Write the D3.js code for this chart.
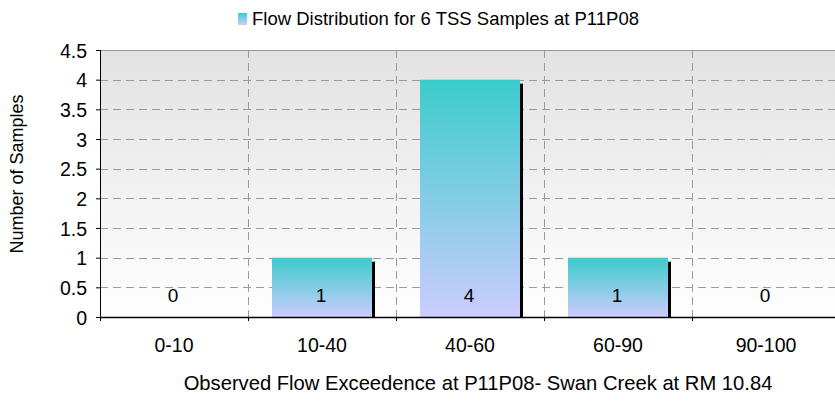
<!DOCTYPE html>
<html>
<head>
<meta charset="utf-8">
<script src="https://cdn.jsdelivr.net/npm/d3@7"></script>
<style>
  html, body { margin: 0; padding: 0; background: #fff; }
  svg { display: block; font-family: "Liberation Sans", Arial, sans-serif; }
</style>
</head>
<body>
<svg id="chart" width="835" height="402"></svg>
<script>
// Flow exceedence bins and the number of TSS samples in each
const categories = ["0-10", "10-40", "40-60", "60-90", "90-100"];
const sampleCounts = [0, 1, 4, 1, 0];
const yTicks = [0, 0.5, 1, 1.5, 2, 2.5, 3, 3.5, 4, 4.5];
const yTickLabels = ["0", "0.5", "1", "1.5", "2", "2.5", "3", "3.5", "4", "4.5"];

const titleText = "Flow Distribution for 6 TSS Samples at P11P08";
const xTitle = "Observed Flow Exceedence at P11P08- Swan Creek at RM 10.84";
const yTitle = "Number of Samples";

const FONT = "'Liberation Sans', Arial, sans-serif";
const svg = d3.select("#chart");
const margin = { left: 100, top: 50, right: -5, bottom: 85 };
const W = 835, H = 402;
const plotW = W - margin.left - margin.right;
const plotH = H - margin.top - margin.bottom;

const defs = svg.append("defs");
const bg = defs.append("linearGradient").attr("id", "bgGrad")
  .attr("x1", 0).attr("y1", 0).attr("x2", 0).attr("y2", 1);
bg.append("stop").attr("offset", "0%").attr("stop-color", "#e2e2e2");
bg.append("stop").attr("offset", "100%").attr("stop-color", "#ffffff");

const barGrad = defs.append("linearGradient").attr("id", "barGrad")
  .attr("x1", 0).attr("y1", 0).attr("x2", 0).attr("y2", 1);
barGrad.append("stop").attr("offset", "0%").attr("stop-color", "#3ccccc");
barGrad.append("stop").attr("offset", "100%").attr("stop-color", "#ccccff");

const x = d3.scaleBand().domain(categories).range([0, plotW]).paddingInner(0).paddingOuter(0);
const y = d3.scaleLinear().domain([0, 4.5]).range([plotH, 0]);

const g = svg.append("g").attr("transform", `translate(${margin.left},${margin.top})`);

// plot background
g.append("rect").attr("x", 0).attr("y", 0).attr("width", plotW).attr("height", plotH)
  .attr("fill", "url(#bgGrad)");
g.append("line").attr("x1", 0).attr("x2", plotW).attr("y1", 0.5).attr("y2", 0.5)
  .attr("stroke", "#999").attr("stroke-width", 1);

// horizontal dashed gridlines
g.selectAll(".hgrid").data(yTicks.filter(t => t > 0 && t < 4.5)).enter().append("line")
  .attr("x1", 0).attr("x2", plotW)
  .attr("y1", d => Math.round(y(d)) + 0.5).attr("y2", d => Math.round(y(d)) + 0.5)
  .attr("stroke", "#9a9a9a").attr("stroke-width", 1).attr("stroke-dasharray", "8,5");

// vertical dashed gridlines at category boundaries
g.selectAll(".vgrid").data(categories.slice(1)).enter().append("line")
  .attr("x1", d => Math.round(x(d)) + 0.5).attr("x2", d => Math.round(x(d)) + 0.5)
  .attr("y1", 0).attr("y2", plotH)
  .attr("stroke", "#9a9a9a").attr("stroke-width", 1).attr("stroke-dasharray", "8,5");

// bars with drop shadow
const pad = 24;
const bw = x.bandwidth() - 2 * pad;
const bars = g.selectAll(".bar").data(categories.map((c, i) => ({ c, v: sampleCounts[i] })))
  .enter().append("g");
bars.filter(d => d.v > 0).append("rect")
  .attr("x", d => x(d.c) + pad + 3).attr("y", d => y(d.v) + 4)
  .attr("width", bw).attr("height", d => plotH - y(d.v) - 4)
  .attr("fill", "#000");
bars.filter(d => d.v > 0).append("rect")
  .attr("x", d => x(d.c) + pad).attr("y", d => y(d.v))
  .attr("width", bw).attr("height", d => plotH - y(d.v))
  .attr("fill", "url(#barGrad)");

// value labels
bars.append("text")
  .attr("x", d => x(d.c) + x.bandwidth() / 2 - 1)
  .attr("y", y(0.33))
  .attr("text-anchor", "middle").attr("dominant-baseline", "middle")
  .attr("font-size", 19).attr("fill", "#000")
  .text(d => d.v);

// axes
const yAxis = d3.axisLeft(y).tickValues(yTicks).tickFormat((d, i) => yTickLabels[i])
  .tickSize(4).tickPadding(9);
const ya = g.append("g").call(yAxis);
ya.select(".domain").remove();
ya.selectAll("text").attr("font-size", 19.5).attr("fill", "#000").attr("dy", "0.36em")
  .style("font-family", FONT);
ya.selectAll("line").attr("stroke", "#000");
g.append("line").attr("x1", 0.5).attr("x2", 0.5).attr("y1", 0).attr("y2", plotH + 4)
  .attr("stroke", "#000").attr("stroke-width", 1);

const xa = g.append("g").attr("transform", `translate(0,${plotH})`)
  .call(d3.axisBottom(x).tickSize(0).tickPadding(0));
xa.select(".domain").remove();
xa.selectAll("text").attr("font-size", 19.5).attr("fill", "#000")
  .attr("dy", null).attr("y", 35)
  .style("font-family", FONT);
// boundary ticks
g.selectAll(".xtick").data(categories.slice(1)).enter().append("line")
  .attr("x1", d => Math.round(x(d)) + 0.5).attr("x2", d => Math.round(x(d)) + 0.5)
  .attr("y1", plotH).attr("y2", plotH + 4).attr("stroke", "#000");
g.append("line").attr("x1", 0).attr("x2", plotW).attr("y1", plotH + 0.5).attr("y2", plotH + 0.5)
  .attr("stroke", "#000").attr("stroke-width", 1.5);

// titles
svg.append("text").attr("x", 478).attr("y", 390)
  .attr("text-anchor", "middle").attr("font-size", 20.2)
  .text(xTitle);
svg.append("text").attr("transform", `translate(23,174) rotate(-90)`)
  .attr("text-anchor", "middle").attr("font-size", 18)
  .text(yTitle);

// legend
const leg = svg.append("g");
leg.append("rect").attr("x", 238).attr("y", 13).attr("width", 9).attr("height", 12)
  .attr("fill", "url(#barGrad)");
leg.append("text").attr("x", 252).attr("y", 25).attr("font-size", 18.5)
  .text(titleText);
</script>
</body>
</html>
